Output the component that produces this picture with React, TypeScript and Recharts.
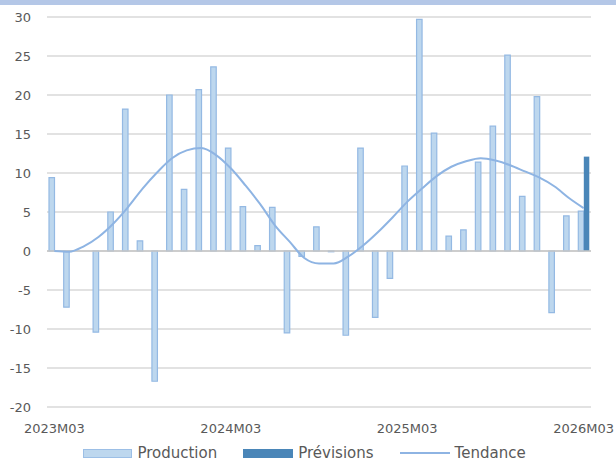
import React from "react";
import {
  ComposedChart,
  Bar,
  Line,
  XAxis,
  YAxis,
  CartesianGrid,
  ReferenceLine,
  Legend,
} from "recharts";

const months = [
  "2023M03", "2023M04", "2023M05", "2023M06", "2023M07", "2023M08", "2023M09", "2023M10", "2023M11", "2023M12",
  "2024M01", "2024M02", "2024M03", "2024M04", "2024M05", "2024M06", "2024M07", "2024M08", "2024M09", "2024M10",
  "2024M11", "2024M12", "2025M01", "2025M02", "2025M03", "2025M04", "2025M05", "2025M06", "2025M07", "2025M08",
  "2025M09", "2025M10", "2025M11", "2025M12", "2026M01", "2026M02", "2026M03",
];

const production = [
  9.4, -7.2, 0, -10.4, 5.0, 18.2, 1.3, -16.7, 20.0, 7.9,
  20.7, 23.6, 13.2, 5.7, 0.7, 5.6, -10.5, -0.7, 3.1, -0.1,
  -10.8, 13.2, -8.5, -3.5, 10.9, 29.7, 15.1, 1.9, 2.7, 11.4,
  16.0, 25.1, 7.0, 19.8, -7.9, 4.5, 5.1,
];

const previsions: (number | null)[] = [
  null, null, null, null, null, null, null, null, null, null,
  null, null, null, null, null, null, null, null, null, null,
  null, null, null, null, null, null, null, null, null, null,
  null, null, null, null, null, null, 12.1,
];

const tendance = [
  0.0, -0.1, 0.6, 1.8, 3.5, 5.6, 8.0, 10.1, 11.9, 12.9,
  13.2, 12.3, 10.6, 8.4, 6.0, 3.3, 1.2, -0.9, -1.6, -1.6,
  -0.7, 0.7, 2.4, 4.3, 6.3, 8.0, 9.6, 10.8, 11.5, 11.9,
  11.6, 11.0, 10.2, 9.4, 8.3, 6.8, 5.5,
];

const xTicks = ["2023M03", "2024M03", "2025M03", "2026M03"];
const yTicks = [-20, -15, -10, -5, 0, 5, 10, 15, 20, 25, 30];

const data = months.map((m, i) => ({
  month: m,
  Production: production[i],
  "Prévisions": previsions[i],
  Tendance: tendance[i],
}));

const FONT = "'DejaVu Sans', sans-serif";
const TEXT = "#595959";

const LegendContent = () => {
  const item = (swatch: React.ReactNode, label: string) => (
    <div style={{ display: "flex", alignItems: "center", marginRight: 26 }}>
      {swatch}
      <span style={{ marginLeft: 5, fontSize: 15, lineHeight: "16px", color: TEXT, fontFamily: FONT }}>{label}</span>
    </div>
  );
  return (
    <div style={{ display: "flex", justifyContent: "center", alignItems: "center", height: 16, paddingLeft: 44 }}>
      {item(
        <div style={{ width: 47, height: 7, background: "#bdd7ee", border: "1px solid #9cbfe6" }} />,
        "Production"
      )}
      {item(<div style={{ width: 50, height: 9, background: "#4a86b8" }} />, "Prévisions")}
      {item(<div style={{ width: 50, height: 2, background: "#8eb4e3" }} />, "Tendance")}
    </div>
  );
};

export default function App() {
  return (
    <div style={{ position: "absolute", left: 0, top: 0, width: 616, height: 461, background: "#fff" }}>
      <div style={{ position: "absolute", left: 0, top: 0, width: 616, height: 5, background: "#b4c7e7", zIndex: 2 }} />
      <ComposedChart
        width={616}
        height={461}
        data={data}
        margin={{ top: 17, right: 25, left: 0, bottom: 0 }}
        barGap={0}
        barCategoryGap={2}
      >
        <CartesianGrid vertical={false} stroke="#d9d9d9" strokeWidth={1.5} />
        <XAxis
          dataKey="month"
          ticks={xTicks}
          interval={0}
          axisLine={false}
          tickLine={false}
          height={38}
          tickMargin={11}
          tick={{ fill: TEXT, fontSize: 13, fontFamily: FONT }}
        />
        <YAxis
          domain={[-20, 30]}
          ticks={yTicks}
          width={47}
          axisLine={false}
          tickLine={false}
          tickMargin={10}
          tick={{ fill: TEXT, fontSize: 13, fontFamily: FONT }}
        />
        <ReferenceLine y={0} stroke="#c6c6c6" strokeWidth={1.5} />
        <Bar
          dataKey="Production"
          fill="#bdd7ee"
          stroke="#94b9e3"
          strokeWidth={1.2}
          barSize={5.5}
          isAnimationActive={false}
        />
        <Bar dataKey="Prévisions" fill="#4a86b8" barSize={5.5} isAnimationActive={false} />
        <Line
          dataKey="Tendance"
          type="monotone"
          stroke="#8eb4e3"
          strokeWidth={2}
          dot={false}
          activeDot={false}
          isAnimationActive={false}
        />
        <Legend verticalAlign="bottom" content={<LegendContent />} wrapperStyle={{ height: 16 }} />
      </ComposedChart>
    </div>
  );
}
